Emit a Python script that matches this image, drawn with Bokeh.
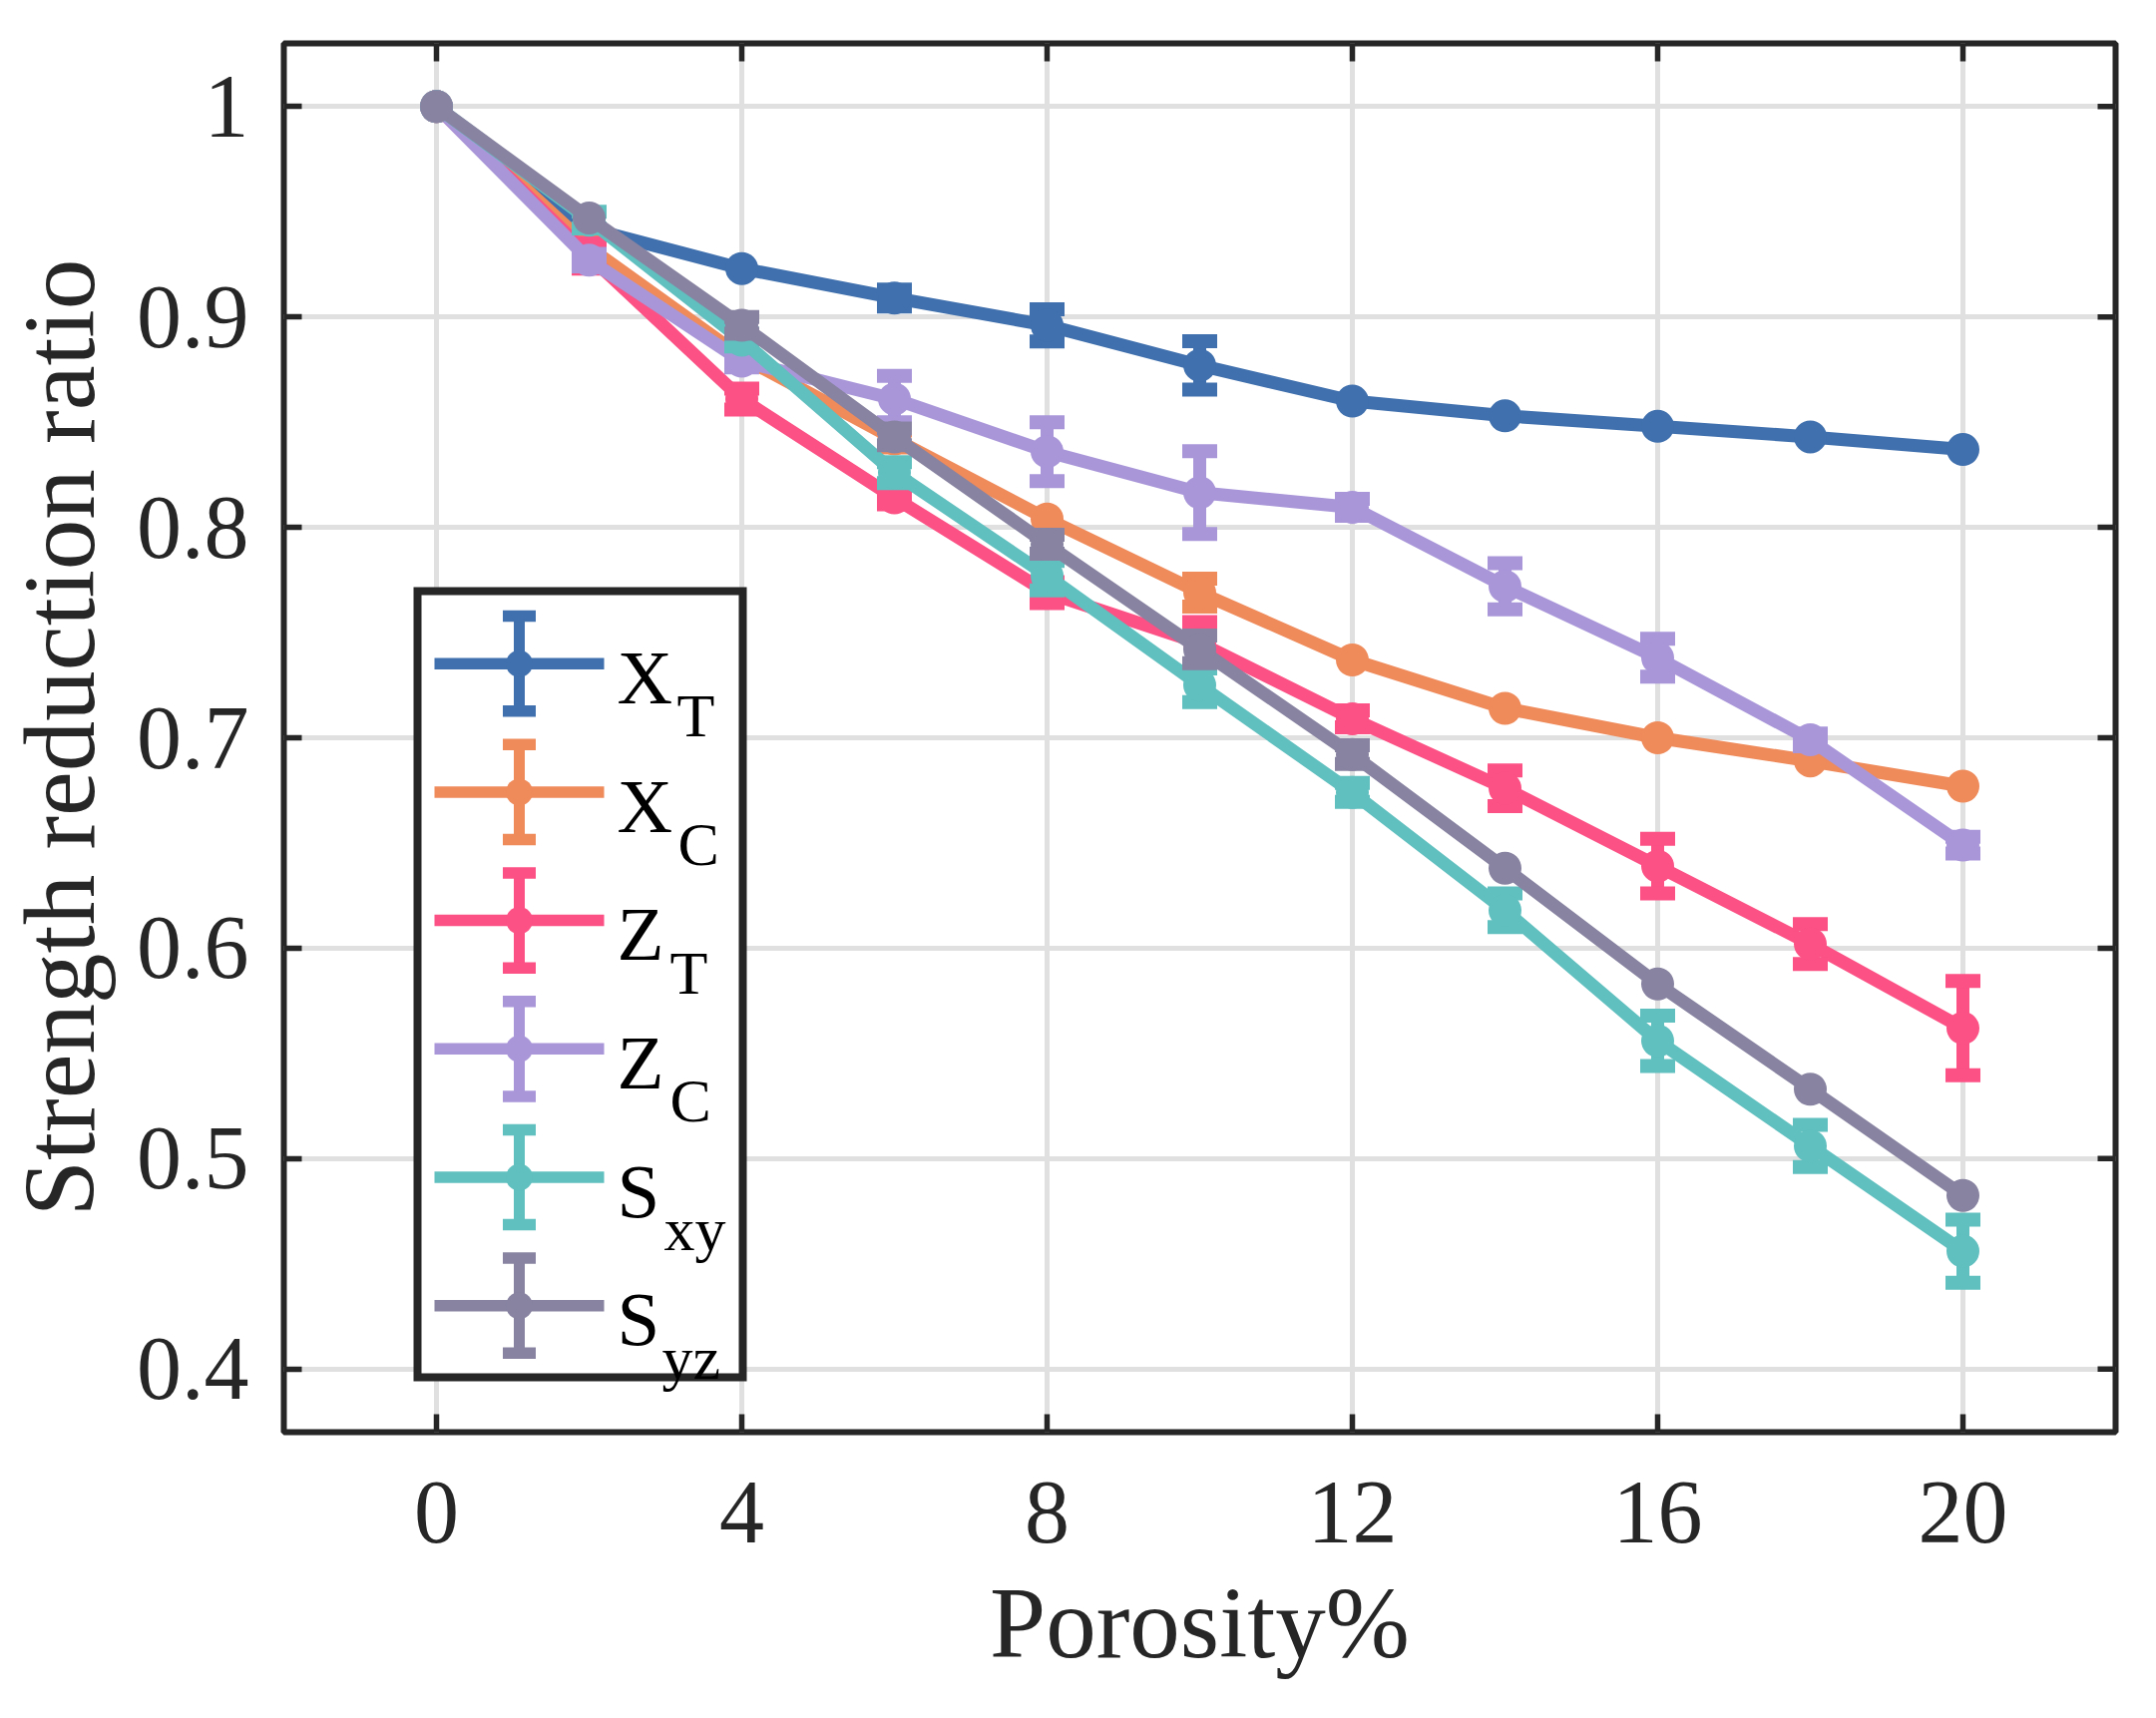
from bokeh.plotting import figure
from bokeh.models import Range1d, FixedTicker, CustomJSTickFormatter
from bokeh.embed import file_html
from bokeh.resources import INLINE
from bokeh.core.properties import value

# ---------------- data ----------------
porosity = [0, 2, 4, 6, 8, 10, 12, 14, 16, 18, 20]

x_t = [1.000, 0.942, 0.923, 0.909, 0.896, 0.877, 0.860, 0.853, 0.848, 0.843, 0.837]
x_t_err = [0, 0, 0, 0.004, 0.0076, 0.0115, 0, 0, 0, 0, 0]

x_c = [1.000, 0.933, 0.881, 0.842, 0.804, 0.769, 0.737, 0.714, 0.700, 0.689, 0.677]
x_c_err = [0, 0.004, 0.003, 0.004, 0, 0.0066, 0, 0, 0, 0, 0]

z_t = [1.000, 0.929, 0.861, 0.814, 0.769, 0.745, 0.709, 0.676, 0.639, 0.602, 0.562]
z_t_err = [0, 0.006, 0.005, 0.003, 0.005, 0.010, 0.004, 0.0085, 0.013, 0.0095, 0.0224]

z_c = [1.000, 0.927, 0.879, 0.861, 0.836, 0.8165, 0.8095, 0.772, 0.738, 0.699, 0.649]
z_c_err = [0, 0.003, 0.003, 0.011, 0.014, 0.0197, 0.004, 0.011, 0.009, 0.003, 0.004]

s_xy = [1.000, 0.946, 0.889, 0.826, 0.777, 0.725, 0.674, 0.618, 0.556, 0.506, 0.456]
s_xy_err = [0, 0.004, 0.003, 0.005, 0.007, 0.008, 0.0045, 0.008, 0.012, 0.010, 0.015]

s_yz = [1.000, 0.947, 0.896, 0.843, 0.792, 0.742, 0.692, 0.638, 0.583, 0.533, 0.4825]
s_yz_err = [0, 0, 0.004, 0.004, 0.0045, 0.0066, 0.0045, 0, 0, 0, 0]

series_values = [x_t, x_c, z_t, z_c, s_xy, s_yz]
series_errors = [x_t_err, x_c_err, z_t_err, z_c_err, s_xy_err, s_yz_err]
legend_main = ["X", "X", "Z", "Z", "S", "S"]
legend_sub = ["T", "C", "T", "C", "xy", "yz"]
colors = ["#4070AD", "#EF8A5B", "#FB5185", "#A996D9", "#60BFBF", "#8783A1"]

x_ticks = [0, 4, 8, 12, 16, 20]
y_ticks = [0.4, 0.5, 0.6, 0.7, 0.8, 0.9, 1.0]
y_tick_labels = ["0.4", "0.5", "0.6", "0.7", "0.8", "0.9", "1"]

x_label = "Porosity%"
y_label = "Strength reduction ratio"

# ---------------- layout ----------------
X_RANGE = (-2, 22)
Y_RANGE = (0.37, 1.03)
BL, BT, BR, BB = 284, 43, 30, 275
FW, FH = 1836, 1392
FONT = "Liberation Serif"
INK = "#262626"
TICK_LEN = 18
TICK_W = 5.5

p = figure(frame_width=FW, frame_height=FH,
           x_range=Range1d(*X_RANGE), y_range=Range1d(*Y_RANGE),
           output_backend="svg", toolbar_location=None,
           min_border_left=BL, min_border_right=BR, min_border_top=BT, min_border_bottom=BB,
           x_axis_label=x_label, y_axis_label=y_label)
p.background_fill_color = "white"
p.border_fill_color = "white"
p.outline_line_color = INK
p.outline_line_width = 6

y_fmt = CustomJSTickFormatter(args=dict(yt=y_ticks, yl=y_tick_labels), code="""
const i = yt.findIndex(t => Math.abs(t - tick) < 1e-6);
return i >= 0 ? yl[i] : String(tick);
""")

for ax in (p.xaxis[0], p.yaxis[0]):
    ax.axis_line_color = None
    ax.major_tick_in = TICK_LEN
    ax.major_tick_out = 0
    ax.major_tick_line_width = TICK_W
    ax.major_tick_line_color = INK
    ax.minor_tick_line_color = None
    ax.major_label_text_font = FONT
    ax.major_label_text_color = INK
    ax.major_label_text_font_size = "90px"
    ax.axis_label_text_font = FONT
    ax.axis_label_text_font_style = "normal"
    ax.axis_label_text_color = INK
    ax.axis_label_text_font_size = "101px"

xa = p.xaxis[0]
ya = p.yaxis[0]
xa.ticker = FixedTicker(ticks=x_ticks)
ya.ticker = FixedTicker(ticks=y_ticks)
ya.formatter = y_fmt
xa.major_label_standoff = 50
ya.major_label_standoff = 35
xa.axis_label_standoff = 22
ya.axis_label_standoff = 18

p.xgrid.ticker = FixedTicker(ticks=x_ticks)
p.ygrid.ticker = FixedTicker(ticks=y_ticks)
for g in (p.xgrid[0], p.ygrid[0]):
    g.grid_line_color = "#e0e0e0"
    g.grid_line_width = 5

# mirrored inward ticks on the top and right edges (clipped to the frame)
p.rect(x=x_ticks, y=[Y_RANGE[1]] * len(x_ticks), width=TICK_W, height=2 * TICK_LEN,
       width_units="screen", height_units="screen", fill_color=INK, line_color=None)
p.rect(x=[X_RANGE[1]] * len(y_ticks), y=y_ticks, width=2 * TICK_LEN, height=TICK_W,
       width_units="screen", height_units="screen", fill_color=INK, line_color=None)

# ---------------- series ----------------
LW = 13
for vals, errs, col in zip(series_values, series_errors, colors):
    p.line(porosity, vals, line_color=col, line_width=LW, line_join="round")
    ex = [x for x, e in zip(porosity, errs) if e > 0]
    ev = [v for v, e in zip(vals, errs) if e > 0]
    ee = [e for e in errs if e > 0]
    lo = [v - e for v, e in zip(ev, ee)]
    hi = [v + e for v, e in zip(ev, ee)]
    p.segment(x0=ex, y0=lo, x1=ex, y1=hi, line_color=col, line_width=LW)
    p.rect(x=ex + ex, y=lo + hi, width=35, height=14, width_units="screen", height_units="screen",
           fill_color=col, line_color=None)
    p.scatter(porosity, vals, marker="circle", size=33, fill_color=col, line_color=None)

# ---------------- legend (drawn manually, positions in page pixels) ----------------
FL_PX = BL
FT_PX = BT

def dx(px):
    return X_RANGE[0] + (px - FL_PX) / FW * (X_RANGE[1] - X_RANGE[0])

def dy(py):
    return Y_RANGE[1] - (py - FT_PX) / FH * (Y_RANGE[1] - Y_RANGE[0])

p.quad(left=[dx(418)], right=[dx(744)], top=[dy(592)], bottom=[dy(1380)],
       fill_color="white", line_color=INK, line_width=8, line_join="miter")

row_c = [664.7 + 128.7 * i for i in range(len(colors))]
sub_x = [678, 679, 671, 671, 665, 663]
for i, col in enumerate(colors):
    cy = row_c[i]
    p.segment(x0=[dx(435)], y0=[dy(cy)], x1=[dx(605)], y1=[dy(cy)], line_color=col, line_width=11.5)
    p.segment(x0=[dx(520)], y0=[dy(cy - 47.6)], x1=[dx(520)], y1=[dy(cy + 47.6)],
              line_color=col, line_width=11)
    p.rect(x=[dx(520), dx(520)], y=[dy(cy - 47.6), dy(cy + 47.6)], width=33, height=11.5,
           width_units="screen", height_units="screen", fill_color=col, line_color=None)
    p.scatter([dx(520)], [dy(cy)], marker="circle", size=27, fill_color=col, line_color=None)
    p.text(x=[dx(618)], y=[dy(cy + 13.6)], text=[legend_main[i]], text_font=value(FONT),
           text_font_size="77px", text_color="black", text_align="left", text_baseline="alphabetic")
    p.text(x=[dx(sub_x[i])], y=[dy(cy + 52)], text=[legend_sub[i]], text_font=value(FONT),
           text_font_size="62px", text_color="black", text_align="left", text_baseline="alphabetic")

open("out.html", "w").write(file_html(p, INLINE))
